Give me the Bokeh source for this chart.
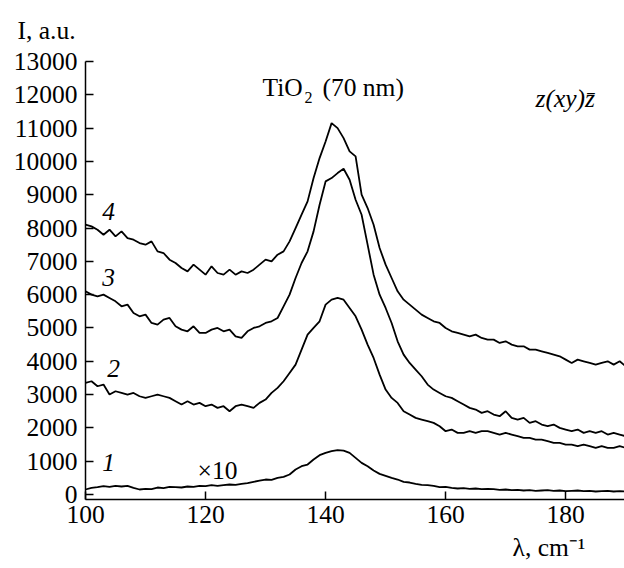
from bokeh.plotting import figure
from bokeh.models import Label, FixedTicker, Range1d, Title
from bokeh.embed import file_html
from bokeh.resources import INLINE

# Raman shift grid (cm^-1)
wavenumber = list(range(100, 191))

# curve 1 (x10)
curve1 = [150, 200, 220, 250, 230, 260, 240, 260, 200, 150,
          170, 160, 210, 190, 230, 220, 210, 240, 230, 260,
          250, 280, 260, 280, 300, 290, 320, 340, 380, 420,
          450, 440, 500, 530, 600, 750, 850, 900, 1050, 1180,
          1250, 1300, 1330, 1320, 1250, 1100, 950, 850, 720, 620,
          560, 500, 450, 380, 360, 320, 290, 280, 260, 220,
          230, 200, 180, 190, 170, 180, 160, 170, 160, 140,
          150, 130, 140, 120, 130, 110, 120, 130, 110, 120,
          100, 110, 120, 100, 110, 90, 100, 110, 90, 100, 90]

curve2 = [3350, 3400, 3250, 3300, 3000, 3100, 3050, 3000, 3050, 2950,
          2900, 2950, 3000, 2950, 2900, 2800, 2700, 2800, 2700, 2750,
          2650, 2700, 2600, 2650, 2500, 2650, 2700, 2650, 2600, 2750,
          2850, 3050, 3200, 3400, 3650, 3900, 4350, 4800, 5000, 5200,
          5700, 5850, 5900, 5850, 5600, 5350, 4950, 4500, 4100, 3600,
          3150, 2900, 2750, 2500, 2400, 2300, 2250, 2200, 2150, 2050,
          1900, 1950, 1850, 1850, 1900, 1850, 1900, 1900, 1850, 1800,
          1850, 1800, 1750, 1700, 1700, 1650, 1650, 1600, 1550, 1550,
          1500, 1500, 1450, 1500, 1450, 1400, 1450, 1400, 1400, 1450, 1400]

curve3 = [6100, 6000, 5950, 6000, 5900, 5800, 5650, 5700, 5450, 5350,
          5400, 5150, 5100, 5250, 5300, 5050, 4950, 4900, 5050, 4850,
          4850, 4950, 5000, 4900, 4950, 4750, 4700, 4900, 5000, 5050,
          5150, 5200, 5300, 5650, 6000, 6500, 6950, 7300, 7900, 8700,
          9400, 9500, 9650, 9780, 9450, 8850, 8400, 7500, 6600, 6000,
          5600, 5150, 4600, 4200, 3950, 3750, 3550, 3300, 3150, 3050,
          2950, 2900, 2800, 2700, 2600, 2550, 2450, 2500, 2400, 2350,
          2500, 2300, 2250, 2300, 2150, 2200, 2100, 2050, 2100, 2000,
          1950, 1900, 1950, 1850, 1900, 1850, 1900, 1800, 1850, 1800, 1750]

curve4 = [8100, 8050, 7950, 7800, 7950, 7750, 7900, 7700, 7650, 7550,
          7500, 7600, 7300, 7250, 7050, 6950, 6800, 6700, 6900, 6750,
          6600, 6850, 6650, 6600, 6750, 6600, 6700, 6650, 6750, 6900,
          7050, 7000, 7200, 7300, 7600, 8000, 8400, 8800, 9500, 10100,
          10600, 11150, 11000, 10700, 10300, 10150, 9000, 8600, 8100, 7400,
          6900, 6500, 6100, 5850, 5700, 5550, 5400, 5300, 5200, 5150,
          5000, 4900, 4850, 4800, 4750, 4800, 4700, 4650, 4650, 4550,
          4600, 4500, 4450, 4450, 4350, 4350, 4300, 4250, 4200, 4150,
          4050, 3950, 4050, 4000, 3950, 3900, 3950, 4000, 3900, 4000, 3850]

x_ticks = [100, 120, 140, 160, 180]
y_ticks = [0, 1000, 2000, 3000, 4000, 5000, 6000, 7000, 8000, 9000,
           10000, 11000, 12000, 13000]

FONT = "Liberation Serif"
FS = "25.5px"

p = figure(width=624, height=568, output_backend="svg", toolbar_location=None,
           x_range=Range1d(100, 189.8), y_range=Range1d(-150, 13000),
           min_border_left=85, min_border_right=0, min_border_top=61,
           min_border_bottom=69)
p.outline_line_color = None
p.grid.visible = False
p.background_fill_color = "white"
p.border_fill_color = "white"

for c in (curve1, curve2, curve3, curve4):
    p.line(wavenumber, c, line_color="black", line_width=1.8)

for ax, ticks in ((p.xaxis, x_ticks), (p.yaxis, y_ticks)):
    ax.ticker = FixedTicker(ticks=ticks)
    ax.minor_tick_line_color = None
    ax.major_tick_in = 8
    ax.major_tick_out = 0
    ax.axis_line_width = 1.5
    ax.major_tick_line_width = 1.5
    ax.axis_line_color = "black"
    ax.major_tick_line_color = "black"
    ax.major_label_text_font = FONT
    ax.major_label_text_font_size = FS
    ax.major_label_text_color = "black"
    ax.major_label_standoff = 8
p.xaxis.major_label_standoff = 6

# axis titles outside the frame
p.add_layout(Title(text="I, a.u.", align="left", offset=-68, standoff=30,
                   vertical_align="top",
                   text_font=FONT, text_font_size=FS, text_font_style="normal",
                   text_color="black"), "above")
p.add_layout(Title(text="\u03bb, cm\u207b\u00b9", align="right", offset=39,
                   standoff=10, text_font=FONT, text_font_size=FS,
                   text_font_style="normal", text_color="black"), "below")

FL = 85   # frame left (canvas px)
FB = 499  # frame bottom (canvas px)


def lab(text, px, py, align="left", style="normal", size=FS):
    p.add_layout(Label(x=px - FL, y=FB - py, x_units="screen", y_units="screen",
                       text=text, text_font=FONT, text_font_size=size,
                       text_font_style=style, text_align=align,
                       text_baseline="middle", text_color="black"))


lab("TiO", 262, 87)
lab("2", 304, 97, size="16px")
lab("(70 nm)", 322, 87)
lab("z(xy)z\u0304", 535, 98, style="italic")
lab("4", 108, 211, align="center", style="italic")
lab("3", 108, 277, align="center", style="italic")
lab("2", 113, 368, align="center", style="italic")
lab("1", 108, 462, align="center", style="italic")
lab("\u00d710", 197, 470)

open("out.html", "w").write(file_html(p, INLINE))
